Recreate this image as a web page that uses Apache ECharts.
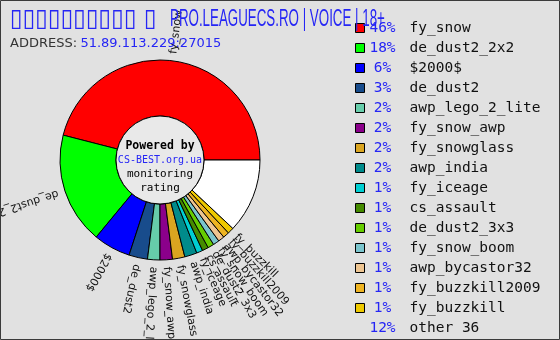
<!DOCTYPE html>
<html>
<head>
<meta charset="utf-8">
<script src="https://cdn.jsdelivr.net/npm/echarts@6/dist/echarts.min.js"></script>
<style>
  html, body { margin: 0; padding: 0; background: #e1e1e1; }
  #chart { width: 560px; height: 340px; }
</style>
</head>
<body>
<div id="chart"></div>
<script>
// Map share chart (server monitoring banner)

const mapNames = [
  'fy_snow', 'de_dust2_2x2', '$2000$', 'de_dust2', 'awp_lego_2_lite',
  'fy_snow_awp', 'fy_snowglass', 'awp_india', 'fy_iceage', 'cs_assault',
  'de_dust2_3x3', 'fy_snow_boom', 'awp_bycastor32', 'fy_buzzkill2009',
  'fy_buzzkill', 'other 36'
];
const mapShares = [46, 18, 6, 3, 2, 2, 2, 2, 1, 1, 1, 1, 1, 1, 1, 12];
const sliceColors = [
  '#ff0000', '#00ff00', '#0000ff', '#184c8c', '#66cdaa',
  '#8b008b', '#daa520', '#008b8b', '#00ced1', '#458b00',
  '#66cd00', '#7ac5cd', '#eec591', '#eeb422', '#eec900', '#ffffff'
];

// server name: the leading glyphs are missing in the source font and show as boxes
const titleBoxes = '\u25AF\u25AF\u25AF\u25AF\u25AF\u25AF\u25AF\u25AF\u25AF\u25AF \u25AF';
const titleText = 'PRO.LEAGUECS.RO | VOICE | 18+';
const addressText = '51.89.113.229:27015';

const BLUE = '#2525f5';
const CENTER = [160, 160];

const chart = echarts.init(document.getElementById('chart'));

// slice data
const total = mapShares.reduce((a, b) => a + b, 0);
const sliceData = mapNames.map((name, i) => ({
  name: name,
  value: mapShares[i],
  itemStyle: { color: sliceColors[i] }
}));

// label ring: same values, transparent, labels rotated outward (radial, never flipped)
let cum = 0;
const labelData = mapNames.map((name, i) => {
  const mid = (cum + mapShares[i] / 2) / total * 360;
  cum += mapShares[i];
  return {
    name: name,
    value: mapShares[i],
    label: { show: i < mapNames.length - 1, rotate: mid }
  };
});

const option = {
  backgroundColor: '#e1e1e1',
  animation: false,

  legend: {
    orient: 'vertical',
    left: 355,
    top: 18,
    padding: 0,
    icon: 'rect',
    itemWidth: 9,
    itemHeight: 9,
    itemGap: 0,
    selectedMode: false,
    itemStyle: { borderColor: '#000', borderWidth: 1 },
    data: mapNames.map((name, i) => i === mapNames.length - 1
      ? { name: name, itemStyle: { color: 'rgba(0,0,0,0)', borderColor: 'rgba(0,0,0,0)', borderWidth: 0 } }
      : { name: name }),
    formatter: (name) => {
      const i = mapNames.indexOf(name);
      return '{p|' + mapShares[i] + '%}{n|' + name + '}';
    },
    textStyle: {
      lineHeight: 20,
      rich: {
        p: { width: 26, align: 'right', color: BLUE, fontFamily: 'DejaVu Sans Mono', fontSize: 14.5, lineHeight: 20 },
        n: { padding: [0, 0, 0, 14], color: '#111', fontFamily: 'DejaVu Sans Mono', fontSize: 14.5, lineHeight: 20 }
      }
    }
  },

  series: [
    {
      name: 'maps',
      type: 'pie',
      center: CENTER,
      radius: [44, 100],
      startAngle: 0,
      clockwise: false,
      silent: true,
      avoidLabelOverlap: false,
      data: sliceData,
      itemStyle: { borderColor: '#000', borderWidth: 1 },
      label: { show: false },
      labelLine: { show: false }
    },
    {
      name: 'labels',
      type: 'pie',
      center: CENTER,
      radius: [100, 300],
      startAngle: 0,
      clockwise: false,
      silent: true,
      avoidLabelOverlap: false,
      data: labelData,
      itemStyle: { color: 'rgba(0,0,0,0)', borderWidth: 0 },
      label: {
        position: 'inside',
        formatter: '{t|{b}}',
        rich: {
          t: { width: 192, align: 'left', fontFamily: 'DejaVu Sans', fontSize: 11, color: '#111' }
        }
      },
      labelLayout: { hideOverlap: false },
      labelLine: { show: false }
    }
  ],

  graphic: [
    // frame
    {
      type: 'rect', z: 200, silent: true,
      shape: { x: 0.5, y: 0.5, width: 559, height: 339 },
      style: { fill: 'none', stroke: '#3a3a3a', lineWidth: 1 }
    },
    // title (condensed)
    {
      type: 'text', z: 50, x: 10, y: 7, scaleX: 1.0, scaleY: 1.08,
      style: { text: titleBoxes, font: '23px "DejaVu Sans"', fill: BLUE, verticalAlign: 'top' }
    },
    {
      type: 'text', z: 50, x: 170, y: 8, scaleX: 0.58,
      style: { text: titleText, font: '23px "Liberation Sans"', fill: BLUE, verticalAlign: 'top' }
    },
    {
      type: 'text', z: 50, x: 10, y: 44,
      style: {
        text: '{a|ADDRESS:} {b|' + addressText + '}',
        verticalAlign: 'middle',
        rich: {
          a: { fontFamily: 'DejaVu Sans', fontSize: 13, fill: '#333' },
          b: { fontFamily: 'DejaVu Sans', fontSize: 13, fill: BLUE }
        }
      }
    },
    // hole in the middle
    {
      type: 'circle', z: 60, silent: true,
      shape: { cx: CENTER[0], cy: CENTER[1], r: 44 },
      style: { fill: '#e9e9e9', stroke: '#000', lineWidth: 1 }
    },
    {
      type: 'text', z: 61, x: CENTER[0], y: 146,
      style: { text: 'Powered by', font: 'bold 11.5px "DejaVu Sans Mono"', fill: '#000', align: 'center', verticalAlign: 'middle' }
    },
    {
      type: 'text', z: 61, x: CENTER[0], y: 160,
      style: { text: 'CS-BEST.org.ua', font: '10px "DejaVu Sans Mono"', fill: BLUE, align: 'center', verticalAlign: 'middle' }
    },
    {
      type: 'text', z: 61, x: CENTER[0], y: 174,
      style: { text: 'monitoring', font: '11px "DejaVu Sans Mono"', fill: '#000', align: 'center', verticalAlign: 'middle' }
    },
    {
      type: 'text', z: 61, x: CENTER[0], y: 188,
      style: { text: 'rating', font: '11px "DejaVu Sans Mono"', fill: '#000', align: 'center', verticalAlign: 'middle' }
    }
  ]
};

chart.setOption(option);
</script>
</body>
</html>
